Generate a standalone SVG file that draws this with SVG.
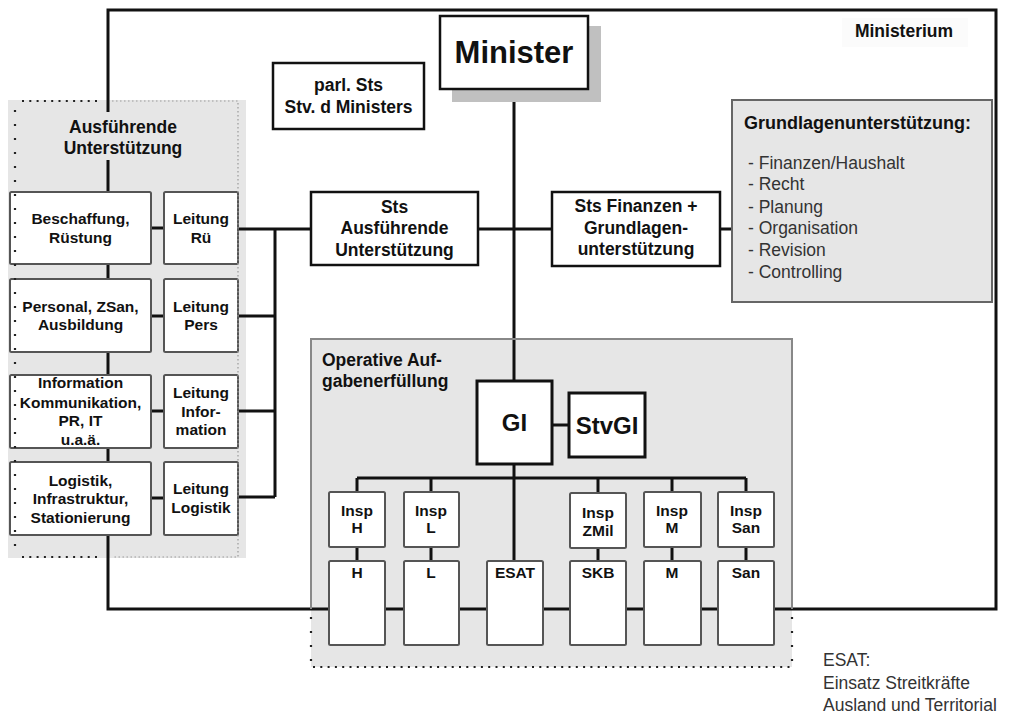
<svg xmlns="http://www.w3.org/2000/svg" width="1011" height="715" viewBox="0 0 1011 715">
  <style>
    text { font-family: "Liberation Sans", Arial, sans-serif; fill: #111; }
    .b { font-weight: bold; }
    .c { text-anchor: middle; }
    .f155 { font-size: 15.5px; }
    .f18 { font-size: 17.5px; }
    .reg { font-size: 17.5px; fill: #333; }
    .line { stroke: #111; stroke-width: 3; fill: none; }
    .main { fill: #fff; stroke: #111; stroke-width: 2.5; }
    .unit { fill: #fff; stroke: #555; stroke-width: 2; }
    .panel { fill: #e6e6e6; }
    .dotsBig { fill: none; stroke: #222; stroke-width: 2.2; stroke-dasharray: 2 12; }
    .dotsSmall { fill: none; stroke: #222; stroke-width: 2; stroke-dasharray: 2 5.3; }
    .dotsFine { fill: none; stroke: #999; stroke-width: 1.2; stroke-dasharray: 1.5 2.5; }
  </style>

  <!-- background panels -->
  <rect class="panel" x="8" y="100" width="238" height="458"/>
  <rect class="panel" x="311" y="339" width="481" height="328"/>
  <rect x="842" y="18" width="126" height="29" fill="#fbfbfb"/>

  <!-- connectors -->
  <g id="connectors">
    <!-- ministry frame -->
    <path class="line" d="M108,112 V10 H996 V609 H108 V535"/>
    <path class="line" d="M108,160 V192 M108,264 V279 M108,352 V375 M108,448 V462"/>
    <!-- minister to GI -->
    <path class="line" d="M514,89 V381"/>
    <!-- state secretaries -->
    <path class="line" d="M478,229 H552 M720,229 H732"/>
    <path class="line" d="M238,229 H311"/>
    <!-- leadership bracket -->
    <path class="line" d="M275,229 V497 M238,316 H275 M238,411 H275 M238,497 H275"/>
    <!-- unit to leadership links -->
    <path class="line" d="M151,228 H164 M151,316 H164 M151,411 H164 M151,498 H164"/>
    <!-- GI -->
    <path class="line" d="M552,425 H569"/>
    <path class="line" d="M514,464 V561 M357,478 H746"/>
    <path class="line" d="M357,478 V492 M431,478 V492 M598,478 V492 M672,478 V492 M746,478 V492"/>
    <path class="line" d="M357,547 V561 M431,547 V561 M598,547 V561 M672,547 V561 M746,547 V561"/>
  </g>

  <!-- operative panel border -->
  <path d="M311,609 V339 H792 V609" fill="none" stroke="#888" stroke-width="2"/>

  <g id="ministerium-label">
    <text class="b f18 c" x="904" y="37">Ministerium</text>
  </g>

  <g id="minister">
    <rect x="452" y="26" width="149" height="76" fill="#c0c0c0"/>
    <rect class="main" x="440" y="16" width="148" height="73"/>
    <text class="b c" x="514" y="63" font-size="31">Minister</text>
  </g>

  <g id="parl-sts">
    <rect class="main" x="273" y="63" width="151" height="66"/>
    <text class="b f18 c" x="348.5" y="91">parl. Sts</text>
    <text class="b f18 c" x="348.5" y="113">Stv. d Ministers</text>
  </g>

  <g id="sts-ausf">
    <rect class="main" x="311" y="192" width="167" height="73"/>
    <text class="b f18 c" x="394.5" y="213">Sts</text>
    <text class="b f18 c" x="394.5" y="234">Ausführende</text>
    <text class="b f18 c" x="394.5" y="256">Unterstützung</text>
  </g>

  <g id="sts-fin">
    <rect class="main" x="552" y="192" width="168" height="74"/>
    <text class="b f18 c" x="636" y="212">Sts Finanzen +</text>
    <text class="b f18 c" x="636" y="234">Grundlagen-</text>
    <text class="b f18 c" x="636" y="255">unterstützung</text>
  </g>

  <g id="grundlagen">
    <rect x="732" y="100" width="260" height="202" fill="#e6e6e6" stroke="#666" stroke-width="2"/>
    <text class="b" x="744" y="129" font-size="18">Grundlagenunterstützung:</text>
    <text class="reg" x="748" y="169">- Finanzen/Haushalt</text>
    <text class="reg" x="748" y="190">- Recht</text>
    <text class="reg" x="748" y="213">- Planung</text>
    <text class="reg" x="748" y="234">- Organisation</text>
    <text class="reg" x="748" y="256">- Revision</text>
    <text class="reg" x="748" y="278">- Controlling</text>
  </g>

  <g id="ausf-title">
    <text class="b f18 c" x="123" y="133">Ausführende</text>
    <text class="b f18 c" x="123" y="154">Unterstützung</text>
  </g>

  <g id="beschaffung">
    <rect class="unit" x="10" y="192" width="141" height="72" rx="1.5"/>
    <text class="b f155 c" x="80.5" y="223.6">Beschaffung,</text>
    <text class="b f155 c" x="80.5" y="242.6">Rüstung</text>
  </g>
  <g id="leitung-ru">
    <rect class="unit" x="164" y="192" width="74" height="72" rx="1.5"/>
    <text class="b f155 c" x="201" y="223.6">Leitung</text>
    <text class="b f155 c" x="201" y="242.6">Rü</text>
  </g>

  <g id="personal">
    <rect class="unit" x="10" y="279" width="141" height="73" rx="1.5"/>
    <text class="b f155 c" x="80.5" y="311.6">Personal, ZSan,</text>
    <text class="b f155 c" x="80.5" y="329.6">Ausbildung</text>
  </g>
  <g id="leitung-pers">
    <rect class="unit" x="164" y="279" width="74" height="73" rx="1.5"/>
    <text class="b f155 c" x="201" y="311.6">Leitung</text>
    <text class="b f155 c" x="201" y="329.6">Pers</text>
  </g>

  <g id="information">
    <rect class="unit" x="10" y="375" width="141" height="73" rx="1.5"/>
    <text class="b f155 c" x="80.5" y="387.6">Information</text>
    <text class="b f155 c" x="80.5" y="407.6">Kommunikation,</text>
    <text class="b f155 c" x="80.5" y="425.6">PR, IT</text>
    <text class="b f155 c" x="80.5" y="444.6">u.a.ä.</text>
  </g>
  <g id="leitung-info">
    <rect class="unit" x="164" y="375" width="74" height="73" rx="1.5"/>
    <text class="b f155 c" x="201" y="397.6">Leitung</text>
    <text class="b f155 c" x="201" y="416.6">Infor-</text>
    <text class="b f155 c" x="201" y="434.6">mation</text>
  </g>

  <g id="logistik">
    <rect class="unit" x="10" y="462" width="141" height="73" rx="1.5"/>
    <text class="b f155 c" x="80.5" y="485.6">Logistik,</text>
    <text class="b f155 c" x="80.5" y="503.6">Infrastruktur,</text>
    <text class="b f155 c" x="80.5" y="522.6">Stationierung</text>
  </g>
  <g id="leitung-log">
    <rect class="unit" x="164" y="462" width="74" height="73" rx="1.5"/>
    <text class="b f155 c" x="201" y="493.6">Leitung</text>
    <text class="b f155 c" x="201" y="512.6">Logistik</text>
  </g>

  <!-- left panel dotted outline -->
  <path class="dotsBig" d="M15,110 V556"/>
  <path class="dotsSmall" d="M22,101 H100 M22,557 H100"/>
  <path class="dotsFine" d="M112,101 H238 V557 H112"/>

  <g id="operative-title">
    <text class="b f18" x="322" y="366">Operative Auf-</text>
    <text class="b f18" x="322" y="387">gabenerfüllung</text>
  </g>

  <g id="gi">
    <rect x="477" y="381" width="75" height="83" fill="#fff" stroke="#111" stroke-width="3"/>
    <text class="b c" x="514.5" y="430.5" font-size="24">GI</text>
  </g>
  <g id="stvgi">
    <rect x="569" y="393" width="76" height="64" fill="#fff" stroke="#111" stroke-width="3"/>
    <text class="b c" x="607" y="433.5" font-size="24">StvGI</text>
  </g>

  <g id="insp-h">
    <rect class="unit" x="329" y="492" width="56" height="55" rx="1.5"/>
    <text class="b f155 c" x="357" y="515.5">Insp</text>
    <text class="b f155 c" x="357" y="532.5">H</text>
  </g>
  <g id="insp-l">
    <rect class="unit" x="404" y="492" width="55" height="55" rx="1.5"/>
    <text class="b f155 c" x="431" y="515.5">Insp</text>
    <text class="b f155 c" x="431" y="532.5">L</text>
  </g>
  <g id="insp-zmil">
    <rect class="unit" x="570" y="493" width="56" height="55" rx="1.5"/>
    <text class="b f155 c" x="598" y="517.5">Insp</text>
    <text class="b f155 c" x="598" y="535.5">ZMil</text>
  </g>
  <g id="insp-m">
    <rect class="unit" x="644" y="492" width="57" height="55" rx="1.5"/>
    <text class="b f155 c" x="672" y="515.5">Insp</text>
    <text class="b f155 c" x="672" y="532.5">M</text>
  </g>
  <g id="insp-san">
    <rect class="unit" x="718" y="492" width="56" height="55" rx="1.5"/>
    <text class="b f155 c" x="746" y="515.5">Insp</text>
    <text class="b f155 c" x="746" y="532.5">San</text>
  </g>

  <g id="force-h">
    <rect class="unit" x="329" y="561" width="56" height="84" rx="1.5"/>
    <text class="b f155 c" x="357" y="577.5">H</text>
  </g>
  <g id="force-l">
    <rect class="unit" x="404" y="561" width="55" height="84" rx="1.5"/>
    <text class="b f155 c" x="431" y="577.5">L</text>
  </g>
  <g id="force-esat">
    <rect class="unit" x="487" y="561" width="56" height="84" rx="1.5"/>
    <text class="b f155 c" x="515" y="577.5">ESAT</text>
  </g>
  <g id="force-skb">
    <rect class="unit" x="570" y="561" width="56" height="84" rx="1.5"/>
    <text class="b f155 c" x="598" y="577.5">SKB</text>
  </g>
  <g id="force-m">
    <rect class="unit" x="644" y="561" width="57" height="84" rx="1.5"/>
    <text class="b f155 c" x="672" y="577.5">M</text>
  </g>
  <g id="force-san">
    <rect class="unit" x="718" y="561" width="56" height="84" rx="1.5"/>
    <text class="b f155 c" x="746" y="577.5">San</text>
  </g>

  <!-- operative panel dotted lower edge -->
  <path class="dotsBig" d="M311,617 V667 M792,617 V667"/>
  <path class="dotsSmall" d="M313,667 H792"/>

  <g id="esat-note">
    <text class="reg" x="823" y="666">ESAT:</text>
    <text class="reg" x="823" y="689">Einsatz Streitkräfte</text>
    <text class="reg" x="823" y="711">Ausland und Territorial</text>
  </g>
</svg>
